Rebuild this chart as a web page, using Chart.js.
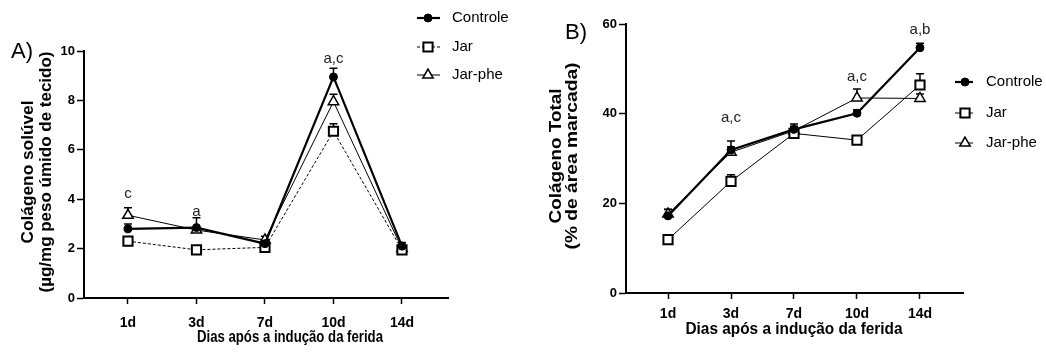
<!DOCTYPE html>
<html>
<head>
<meta charset="utf-8">
<script src="https://cdn.jsdelivr.net/npm/chart.js@4.4.1/dist/chart.umd.min.js"></script>
<style>
  html, body { margin: 0; padding: 0; background: #fff; }
  #wrap { position: relative; width: 1046px; height: 356px; }
  canvas { position: absolute; top: 0; }
</style>
</head>
<body>
<div id="wrap">
  <canvas id="chartA" width="540" height="356" style="left:0"></canvas>
  <canvas id="chartB" width="506" height="356" style="left:540px"></canvas>
</div>
<script>
// dados
const days = ['1d', '3d', '7d', '10d', '14d'];
const seriesNames = ['Controle', 'Jar', 'Jar-phe'];

// A) colágeno solúvel (µg/mg)
const solControle = [2.8, 2.85, 2.2, 8.95, 2.1];
const solJar = [2.3, 1.95, 2.05, 6.75, 1.95];
const solJarPhe = [3.35, 2.75, 2.35, 7.95, 2.0];
const solErrControle = [0.2, 0.4, 0.15, 0.35, 0.15];
const solErrJar = [0.1, 0.1, 0.1, 0.3, 0.1];
const solErrJarPhe = [0.3, 0.1, 0.15, 0.3, 0.1];
const solTicks = [0, 2, 4, 6, 8, 10];
const solNoteDay = [0, 1, 3];
const solNoteVal = [4.2, 3.5, 9.7];
const solNoteText = ['c', 'a', 'a,c'];

// B) colágeno total (% área)
const totControle = [17.2, 31.9, 36.5, 40.1, 54.7];
const totJar = [11.9, 24.9, 35.6, 34.1, 46.4];
const totJarPhe = [17.6, 31.4, 36.2, 43.5, 43.4];
const totErrControle = [1.5, 2.0, 1.2, 0.8, 1.0];
const totErrJar = [0.8, 1.5, 0.8, 1.0, 2.5];
const totErrJarPhe = [1.0, 1.2, 1.0, 2.0, 1.0];
const totTicks = [0, 20, 40, 60];
const totNoteDay = [1, 3, 4];
const totNoteVal = [39, 48.2, 58.6];
const totNoteText = ['a,c', 'a,c', 'a,b'];

const FONT = "'Liberation Sans', Arial, sans-serif";

function drawMarker(ctx, style, x, y, r, fill, bw) {
  ctx.save();
  ctx.beginPath();
  if (style === 'circle') {
    ctx.arc(x, y, r, 0, Math.PI * 2);
  } else if (style === 'rect') {
    const s = r / Math.SQRT2;
    ctx.rect(x - s, y - s, 2 * s, 2 * s);
  } else {
    let rad = 0;
    ctx.moveTo(x + Math.sin(rad) * r, y - Math.cos(rad) * r);
    rad += Math.PI * 2 / 3;
    ctx.lineTo(x + Math.sin(rad) * r, y - Math.cos(rad) * r);
    rad += Math.PI * 2 / 3;
    ctx.lineTo(x + Math.sin(rad) * r, y - Math.cos(rad) * r);
    ctx.closePath();
  }
  ctx.fillStyle = fill;
  ctx.fill();
  ctx.lineWidth = bw;
  ctx.strokeStyle = '#000';
  ctx.stroke();
  ctx.restore();
}

function stretchText(ctx, text, x, y, len, font, rotate) {
  ctx.save();
  ctx.font = font;
  ctx.fillStyle = '#000';
  ctx.textAlign = 'center';
  ctx.textBaseline = 'middle';
  ctx.translate(x, y);
  if (rotate) ctx.rotate(-Math.PI / 2);
  const w = ctx.measureText(text).width;
  ctx.scale(len / w, 1);
  ctx.fillText(text, 0, 0);
  ctx.restore();
}

// barras de erro (só a parte de cima), desenhadas antes dos marcadores
const errorBars = {
  id: 'errorBars',
  beforeDatasetsDraw(chart) {
    const ctx = chart.ctx;
    const ys = chart.scales.y;
    chart.data.datasets.forEach((ds, di) => {
      const meta = chart.getDatasetMeta(di);
      meta.data.forEach((pt, i) => {
        const top = ys.getPixelForValue(ds.data[i].y + ds.err[i]);
        ctx.save();
        ctx.strokeStyle = '#000';
        ctx.lineWidth = 1.5;
        ctx.beginPath();
        ctx.moveTo(pt.x, pt.y);
        ctx.lineTo(pt.x, top);
        ctx.moveTo(pt.x - 4, top);
        ctx.lineTo(pt.x + 4, top);
        ctx.stroke();
        ctx.restore();
      });
    });
  }
};

// letras, legenda e títulos
const extras = {
  id: 'extras',
  afterDraw(chart) {
    const o = chart.options.plugins.extras;
    const ctx = chart.ctx;
    const xs = chart.scales.x, ys = chart.scales.y;

    ctx.save();
    ctx.fillStyle = '#222';
    ctx.font = '15px ' + FONT;
    ctx.textAlign = 'center';
    ctx.textBaseline = 'middle';
    o.noteDay.forEach((d, i) => {
      ctx.fillText(o.noteText[i], xs.getPixelForValue(d), ys.getPixelForValue(o.noteVal[i]));
    });
    ctx.restore();

    chart.data.datasets.forEach((ds, i) => {
      const y = o.legendY[i];
      ctx.save();
      ctx.strokeStyle = '#000';
      ctx.lineWidth = ds.borderWidth;
      ctx.setLineDash(ds.borderDash || []);
      ctx.beginPath();
      ctx.moveTo(o.legendX[0], y);
      ctx.lineTo(o.legendX[2], y);
      ctx.stroke();
      ctx.restore();
      drawMarker(ctx, ds.pointStyle, o.legendX[1], y, ds.pointRadius, ds.pointBackgroundColor, ds.pointBorderWidth);
      ctx.save();
      ctx.fillStyle = '#000';
      ctx.font = '15px ' + FONT;
      ctx.textBaseline = 'middle';
      ctx.fillText(ds.label, o.legendX[3], y);
      ctx.restore();
    });

    o.yTitle.forEach((t, i) => {
      stretchText(ctx, t, o.yTitleX[i], o.yTitleY, o.yTitleLen[i], 'bold 16px ' + FONT, true);
    });
    stretchText(ctx, o.xTitle, o.xTitlePos[0], o.xTitlePos[1], o.xTitleLen, 'bold 16px ' + FONT, false);

    ctx.save();
    ctx.fillStyle = '#000';
    ctx.font = '22px ' + FONT;
    ctx.textBaseline = 'middle';
    ctx.fillText(o.panel, o.panelPos[0], o.panelPos[1]);
    ctx.restore();
  }
};

function points(vals) {
  return vals.map((v, i) => ({ x: i, y: v }));
}

function makeChart(id, cfg) {
  const canvas = document.getElementById(id);
  const W = canvas.width, H = canvas.height;
  return new Chart(canvas, {
    type: 'line',
    data: {
      datasets: [
        {
          label: seriesNames[0], data: points(cfg.values[0]), err: cfg.errs[0],
          borderColor: '#000', borderWidth: 2.2,
          pointStyle: 'circle', pointRadius: 4, pointBackgroundColor: '#000',
          pointBorderColor: '#000', pointBorderWidth: 1
        },
        {
          label: seriesNames[1], data: points(cfg.values[1]), err: cfg.errs[1],
          borderColor: '#000', borderWidth: 1, borderDash: cfg.jarDash,
          pointStyle: 'rect', pointRadius: 6.5, pointBackgroundColor: '#fff',
          pointBorderColor: '#000', pointBorderWidth: 2
        },
        {
          label: seriesNames[2], data: points(cfg.values[2]), err: cfg.errs[2],
          borderColor: '#000', borderWidth: 1,
          pointStyle: 'triangle', pointRadius: 6, pointBackgroundColor: '#fff',
          pointBorderColor: '#000', pointBorderWidth: 1.5
        }
      ]
    },
    options: {
      responsive: false,
      animation: false,
      layout: { padding: { left: 0, top: cfg.area[1], right: W - cfg.area[2], bottom: 0 } },
      elements: { line: { tension: 0 } },
      scales: {
        x: {
          type: 'linear',
          min: cfg.xRange[0], max: cfg.xRange[1],
          afterBuildTicks: s => { s.ticks = days.map((d, i) => ({ value: i })); },
          afterFit: s => { s.height = H - cfg.area[3]; },
          ticks: {
            callback: v => days[v],
            color: '#000', padding: cfg.xPad,
            font: { family: FONT, size: 14, weight: 'bold' },
            maxRotation: 0
          },
          grid: { drawOnChartArea: false, tickLength: 6, tickWidth: 1.5, tickColor: '#000' },
          border: { color: '#000', width: 2 }
        },
        y: {
          min: cfg.yTicks[0], max: cfg.yTicks[cfg.yTicks.length - 1],
          afterBuildTicks: s => { s.ticks = cfg.yTicks.map(v => ({ value: v })); },
          afterFit: s => { s.width = cfg.area[0]; },
          ticks: {
            color: '#000', padding: 2,
            font: { family: FONT, size: 13, weight: 'bold' }
          },
          grid: { drawOnChartArea: false, tickLength: 7, tickWidth: 1.5, tickColor: '#000' },
          border: { color: '#000', width: 2 }
        }
      },
      plugins: {
        legend: { display: false },
        tooltip: { enabled: false },
        extras: cfg.extras
      }
    },
    plugins: [errorBars, extras]
  });
}

makeChart('chartA', {
  values: [solControle, solJar, solJarPhe],
  errs: [solErrControle, solErrJar, solErrJarPhe],
  yTicks: solTicks,
  jarDash: [3, 2],
  area: [84, 51, 448, 298],
  xRange: [-0.642, 4.672],
  xPad: 11,
  extras: {
    noteDay: solNoteDay, noteVal: solNoteVal, noteText: solNoteText,
    legendX: [417, 428, 440, 452], legendY: [18, 47, 75],
    yTitle: ['Colágeno solúvel', '(µg/mg peso úmido de tecido)'],
    yTitleX: [29, 47], yTitleY: 172, yTitleLen: [143, 241],
    xTitle: 'Dias após a indução da ferida', xTitlePos: [290, 338], xTitleLen: 186,
    panel: 'A)', panelPos: [11, 52]
  }
});

makeChart('chartB', {
  values: [totControle, totJar, totJarPhe],
  errs: [totErrControle, totErrJar, totErrJarPhe],
  yTicks: totTicks,
  jarDash: [],
  area: [86, 24, 423, 293],
  xRange: [-0.667, 4.683],
  xPad: 7,
  extras: {
    noteDay: totNoteDay, noteVal: totNoteVal, noteText: totNoteText,
    legendX: [415, 425, 433, 446], legendY: [82, 113, 143],
    yTitle: ['Colágeno Total', '(% de área marcada)'],
    yTitleX: [17, 33], yTitleY: 156, yTitleLen: [135, 187],
    xTitle: 'Dias após a indução da ferida', xTitlePos: [254, 330], xTitleLen: 217,
    panel: 'B)', panelPos: [25, 33]
  }
});
</script>
</body>
</html>
